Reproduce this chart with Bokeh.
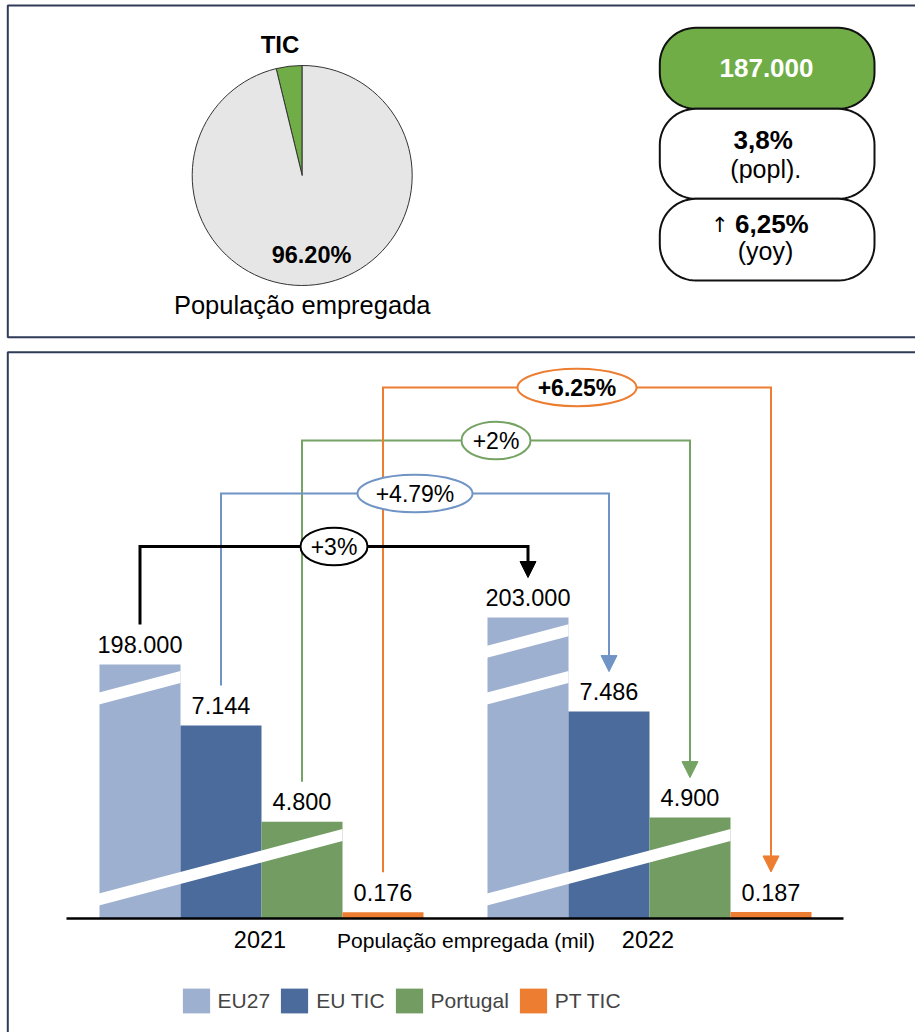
import numpy as np
from bokeh.plotting import figure
from bokeh.models import Range1d, Legend, LegendItem, Arrow, NormalHead
from bokeh.core.properties import value
from bokeh.embed import file_html
from bokeh.resources import INLINE

# ---------------- data ----------------
YEARS = ["2021", "2022"]
SERIES = ["EU27", "EU TIC", "Portugal", "PT TIC"]
EU27 = [198.000, 203.000]
EU_TIC = [7.144, 7.486]
PORTUGAL = [4.800, 4.900]
PT_TIC = [0.176, 0.187]
GROWTH_LABELS = ["+3%", "+4.79%", "+2%", "+6.25%"]
AXIS_TITLE = "População empregada (mil)"

PIE_TITLE = "TIC"
PIE_SHARES = [3.8, 96.2]          # TIC, resto (%)
PIE_LABEL = "96.20%"
PIE_CAPTION = "População empregada"
KPI_VALUE = "187.000"
KPI_SHARE = "3,8%"
KPI_SHARE_NOTE = "(popl)."
KPI_YOY = "6,25%"
KPI_YOY_NOTE = "(yoy)"

# broken value axis (value -> drawn height), knots of the axis breaks
BREAK_VALUES = [0, 0.5, 4, 8, 198, 210]
BREAK_PX = [0, 17.5, 64, 228, 254, 366.8]

# ---------------- styles ----------------
BAR_COLORS = ["#9db0cf", "#4a6b9b", "#729c62", "#ed7d31"]
LINE_COLORS = ["#000000", "#7094c5", "#74a363", "#ed7d31"]
LINE_WIDTHS = [3, 2, 2, 2]
ELL_W = [67, 115, 69, 119]
ELL_BOLD = [False, False, False, True]
PANEL_COLOR = "#2f3b57"
GREEN = "#70ad47"
FONT_NAME = "Liberation Sans"

W, H = 915, 1032


def Y(py):
    return H - py


p = figure(width=W, height=H, x_range=Range1d(0, W), y_range=Range1d(0, H),
           output_backend="svg", toolbar_location=None,
           x_axis_location=None, y_axis_location=None, min_border=0,
           outline_line_color=None, background_fill_color="white",
           border_fill_color="white")
p.xgrid.visible = False
p.ygrid.visible = False


def txt(x, base, s, size, bold=False, color="black", align="center", font=FONT_NAME):
    """base: baseline in y-up data coords; drawn with middle baseline at cap centre"""
    sz = float(size.replace("px", ""))
    ys = [b + 0.358 * sz for b in base]
    p.text(x=x, y=ys, text=s, text_font=value(font), text_font_size=size,
           text_font_style="bold" if bold else "normal", text_color=color,
           text_align=align, text_baseline="middle")


# ---------------- panel frames ----------------
p.line([W + 10, 7.3, 7.3, W + 10], [Y(5), Y(5), Y(336.7), Y(336.7)],
       line_color=PANEL_COLOR, line_width=2)
p.line([W + 10, 7.3, 7.3], [Y(351.7), Y(351.7), Y(H + 10)],
       line_color=PANEL_COLOR, line_width=2)

# ---------------- pie ----------------
cx, cy, R = 301.7, Y(175), 110
fr = np.array(PIE_SHARES) / sum(PIE_SHARES)
starts = np.pi / 2 + 2 * np.pi * np.concatenate([[0], np.cumsum(fr)[:-1]])
ends = np.pi / 2 + 2 * np.pi * np.cumsum(fr)
p.wedge(x=cx, y=cy, radius=R, start_angle=starts, end_angle=ends,
        direction="anticlock", fill_color=[GREEN, "#e6e6e6"],
        line_color="#333333", line_width=1)
txt([279.5], [Y(52.7)], [PIE_TITLE], "24px", bold=True)
txt([311], [Y(263.3)], [PIE_LABEL], "23.5px", bold=True)
txt([301.7], [Y(313.3)], [PIE_CAPTION], "25.5px")

# ---------------- KPI pills ----------------


def pill(l, r, t, b, rad):
    a = np.linspace(0, np.pi / 2, 18)
    xs = np.concatenate([r - rad + rad * np.cos(a),
                         l + rad + rad * np.cos(np.pi / 2 + a),
                         l + rad + rad * np.cos(np.pi + a),
                         r - rad + rad * np.cos(3 * np.pi / 2 + a)])
    ys = np.concatenate([t - rad + rad * np.sin(a),
                         t - rad + rad * np.sin(np.pi / 2 + a),
                         b + rad + rad * np.sin(np.pi + a),
                         b + rad + rad * np.sin(3 * np.pi / 2 + a)])
    return list(xs), list(ys)


pl, pr = 659.3, 874
boxes = [(27.3, 108.3, GREEN), (108.3, 198.3, "white"), (198.3, 280, "white")]
for t, b, c in boxes:
    xs, ys = pill(pl, pr, Y(t), Y(b), 36)
    p.patch(xs, ys, fill_color=c, line_color="#111111", line_width=2)

txt([766], [Y(77.3)], [KPI_VALUE], "26px", bold=True, color="white")
txt([762.7], [Y(149)], [KPI_SHARE], "26px", bold=True)
txt([765.3], [Y(177.3)], [KPI_SHARE_NOTE], "25px")
txt([728], [Y(232)], ["\u2191"], "21px", align="right", font="DejaVu Sans")
txt([734.5], [Y(233.3)], [KPI_YOY], "26px", bold=True, align="left")
txt([765], [Y(259.5)], [KPI_YOY_NOTE], "25px")

# ---------------- bars ----------------
BASE = Y(918)
BAR_W = 81
GROUP_CENTERS = [261 + 388 * i for i in range(len(YEARS))]
values = [EU27, EU_TIC, PORTUGAL, PT_TIC]

bar_x, bar_top, renderers = [], [], []
for j, vals in enumerate(values):
    xs = [gc + (j - 1.5) * BAR_W for gc in GROUP_CENTERS]
    tops = list(BASE + np.interp(vals, BREAK_VALUES, BREAK_PX))
    r = p.vbar(x=xs, width=BAR_W, bottom=BASE, top=tops,
               fill_color=BAR_COLORS[j], line_color=None)
    renderers.append(r)
    bar_x.append(xs)
    bar_top.append(tops)

# axis-break marks (white slashes)
SLOPE, THICK = 0.265, 12
breaks = [  # (group, first bar, n bars, height of lower edge at left)
    (0, 0, 3, 13), (1, 0, 3, 13),
    (0, 0, 1, 214), (1, 0, 1, 214), (1, 0, 1, 260.7),
]
sx, sy = [], []
for g, b0, nb, h0 in breaks:
    L = GROUP_CENTERS[g] - 2 * BAR_W + b0 * BAR_W - 0.5
    Rr = L + nb * BAR_W + 0.5
    dh = SLOPE * (Rr - L)
    sx.append([L, Rr, Rr, L])
    sy.append([BASE + h0, BASE + h0 + dh, BASE + h0 + dh + THICK, BASE + h0 + THICK])
p.patches(sx, sy, fill_color="white", line_color=None)

# baseline
p.segment(x0=[66], y0=[BASE], x1=[843], y1=[BASE], line_color="black", line_width=2.5)

# value labels
for j, vals in enumerate(values):
    txt(bar_x[j], [t + 11.5 for t in bar_top[j]], [f"{v:.3f}" for v in vals], "23.5px")

# category labels
txt([gc - 1.5 for gc in GROUP_CENTERS], [Y(947.7)] * len(YEARS), YEARS, "23.5px")
txt([465.5], [Y(947.7)], [AXIS_TITLE], "21px")

# ---------------- growth connectors ----------------
LEVEL0 = Y(546)
order = [2, 1, 3, 0]
for j in order:
    x0, x1 = bar_x[j][0], bar_x[j][1]
    ys0 = bar_top[j][0] + 40
    ytip = bar_top[j][1] + 40
    lev = LEVEL0 + 53 * j
    p.line([x0, x0, x1, x1], [ys0, lev, lev, ytip + 8], line_color=LINE_COLORS[j],
           line_width=LINE_WIDTHS[j], line_join="miter")
    p.add_layout(Arrow(end=NormalHead(size=16, fill_color=LINE_COLORS[j],
                                      line_color=LINE_COLORS[j], line_width=1),
                       x_start=x1, y_start=lev, x_end=x1, y_end=ytip,
                       line_alpha=0))
for j in range(4):
    x0 = bar_x[j][0]
    lev = LEVEL0 + 53 * j
    p.ellipse(x=[x0 + 194], y=[lev], width=ELL_W[j], height=37.5,
              fill_color="white", line_color=LINE_COLORS[j], line_width=2)
    txt([x0 + 194], [lev - 8.5], [GROWTH_LABELS[j]], "23px", bold=ELL_BOLD[j])

# ---------------- legend ----------------
legend = Legend(items=[LegendItem(label=s, renderers=[r]) for s, r in zip(SERIES, renderers)],
                orientation="horizontal", location=(178.6, 16),
                glyph_width=34, glyph_height=31, label_standoff=5, spacing=7,
                padding=0, margin=0, border_line_color=None,
                background_fill_alpha=0, label_text_font=FONT_NAME,
                label_text_font_size="21px", label_height=31)
p.add_layout(legend)

open("out.html", "w").write(file_html(p, INLINE))
